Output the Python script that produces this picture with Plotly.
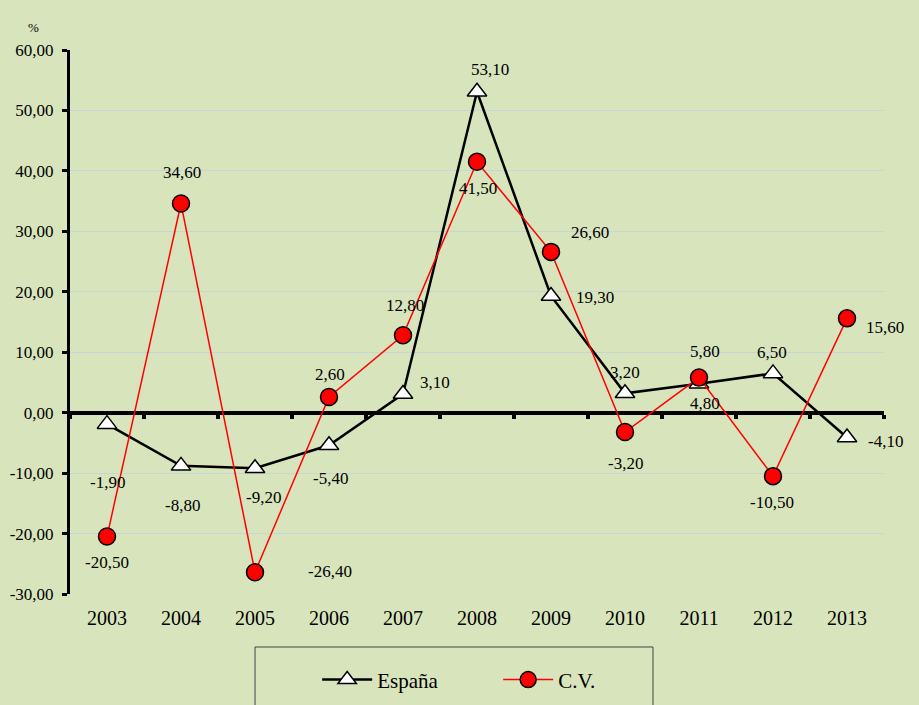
import plotly.graph_objects as go

# Annual change (%) by year
years = ["2003", "2004", "2005", "2006", "2007", "2008", "2009", "2010", "2011", "2012", "2013"]
espana = [-1.9, -8.8, -9.2, -5.4, 3.1, 53.1, 19.3, 3.2, 4.8, 6.5, -4.1]
cv = [-20.5, 34.6, -26.4, 2.6, 12.8, 41.5, 26.6, -3.2, 5.8, -10.5, 15.6]
y_ticks = [-30, -20, -10, 0, 10, 20, 30, 40, 50, 60]

# Pixel offsets for the value labels of each series
esp_label_shift = [(0, -58), (1, -40), (8, -29), (1, -33), (32, 11), (13, 22),
                   (44, -1), (0, 21), (6, -20), (-1, 21), (38, -4)]
cv_label_shift = [(0, -26), (1, 31), (75, 1), (1, 22), (2, 30), (1, -27),
                  (39, 19), (0, -31), (6, 26), (-1, -26), (38, -9)]

BG = "#d8e4bc"
FONT = "Liberation Serif, Times New Roman, serif"


def fmt(v):
    return f"{v:.2f}".replace(".", ",")


fig = go.Figure()

fig.add_trace(go.Scatter(
    x=years, y=espana, name="España", mode="lines+markers",
    line=dict(color="black", width=2.5),
    marker=dict(symbol="triangle-up", size=17, color="white",
                line=dict(color="black", width=1.5)),
))
fig.add_trace(go.Scatter(
    x=years, y=cv, name="C.V.", mode="lines+markers",
    line=dict(color="#ff0000", width=1.5),
    marker=dict(symbol="circle", size=17, color="#ff0000",
                line=dict(color="black", width=1.5)),
))
# carrier trace for the zero-line axis
fig.add_trace(go.Scatter(
    x=[-0.5, 10.5], y=[0, 0], xaxis="x2", mode="lines",
    line=dict(width=0), opacity=0, showlegend=False, hoverinfo="skip",
))

annotations = []
for vals, shifts in ((espana, esp_label_shift), (cv, cv_label_shift)):
    for i, (v, (dx, dy)) in enumerate(zip(vals, shifts)):
        annotations.append(dict(
            x=i, y=v, xref="x", yref="y", text=fmt(v), showarrow=False,
            xshift=dx, yshift=dy, font=dict(family=FONT, size=17, color="black"),
        ))
annotations.append(dict(
    x=-0.054, y=1.059, xref="paper", yref="paper", text="%", showarrow=False,
    font=dict(family=FONT, size=13, color="black"),
))

ymin, ymax = -30, 60

fig.update_layout(
    width=919, height=705,
    margin=dict(l=70, r=35, t=50, b=111, autoexpand=False),
    paper_bgcolor=BG, plot_bgcolor=BG,
    font=dict(family=FONT, color="black"),
    showlegend=True,
    legend=dict(
        orientation="h", x=0.526, xanchor="center", y=-0.158, yanchor="middle",
        bgcolor="rgba(0,0,0,0)", font=dict(family=FONT, size=21),
        entrywidth=116, entrywidthmode="pixels", itemwidth=50,
    ),
    xaxis=dict(
        type="category", range=[-0.5, 10.5], showgrid=False, zeroline=False,
        showline=False, ticks="", tickfont=dict(family=FONT, size=20),
        ticklabelstandoff=10, automargin=False,
    ),
    xaxis2=dict(
        overlaying="x", anchor="free", position=(0 - ymin) / (ymax - ymin),
        side="bottom", range=[-0.5, 10.5], showgrid=False, zeroline=False,
        showline=True, linecolor="black", linewidth=4,
        ticks="outside", tickvals=[i - 0.5 for i in range(12)],
        ticklen=4, tickwidth=4, tickcolor="black", showticklabels=False,
        layer="below traces", automargin=False,
    ),
    yaxis=dict(
        range=[ymin, ymax], tickvals=y_ticks, ticktext=[fmt(t) for t in y_ticks],
        showgrid=True, gridcolor="#c4d7d6", gridwidth=1, zeroline=False,
        showline=True, linecolor="black", linewidth=3,
        ticks="outside", ticklen=5, tickwidth=3, tickcolor="black",
        tickfont=dict(family=FONT, size=17), ticklabelstandoff=5,
        layer="below traces", automargin=False,
    ),
    annotations=annotations,
    shapes=[dict(
        type="rect", xref="paper", yref="paper",
        x0=0.2273, x1=0.7162, y0=-0.0974, y1=-0.215,
        line=dict(color="#404040", width=1), fillcolor="rgba(0,0,0,0)",
    )],
)

fig.write_html("out.html")
